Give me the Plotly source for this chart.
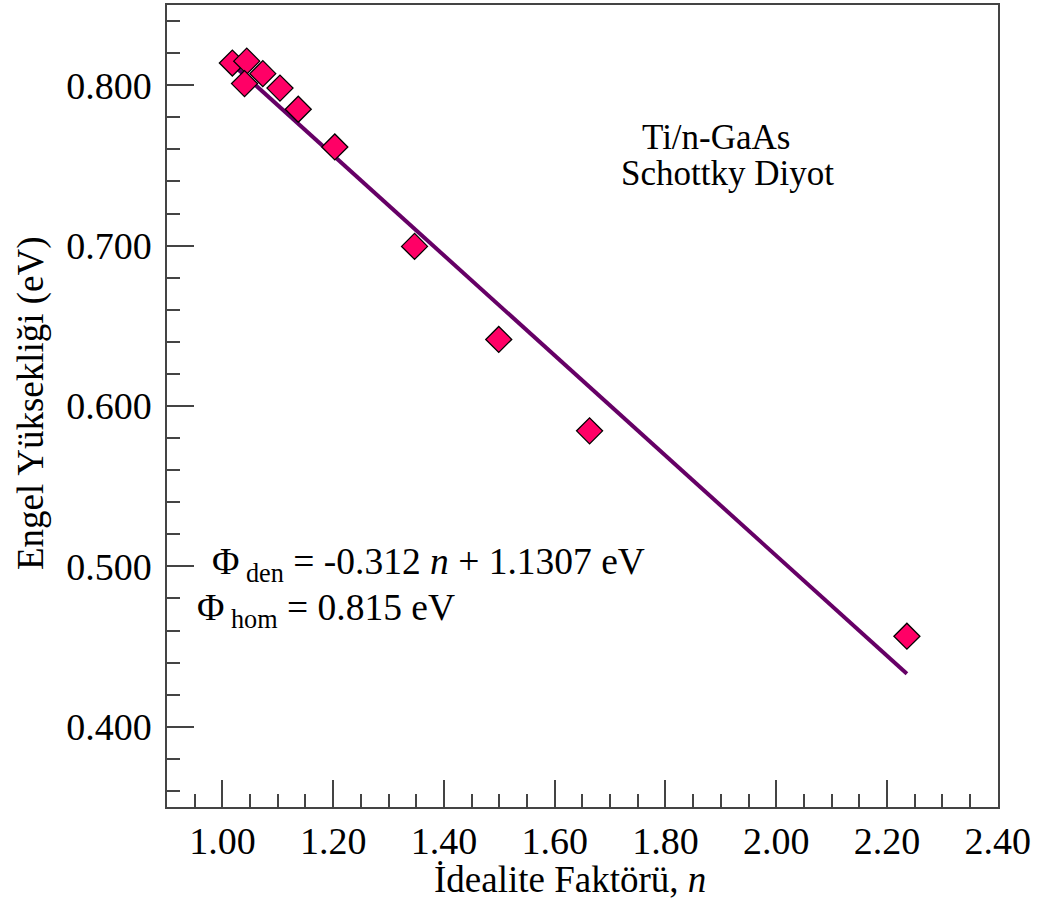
import plotly.graph_objects as go

# Data
ideality_n = [1.018, 1.044, 1.040, 1.073, 1.104, 1.137, 1.203, 1.347, 1.499, 1.663, 2.236]
barrier_eV = [0.8138, 0.8150, 0.8010, 0.8072, 0.7982, 0.7850, 0.7615, 0.6995, 0.6415, 0.5845, 0.4565]

# Linear fit given in the chart
slope = -0.312
intercept = 1.1307
fit_x = [min(ideality_n), max(ideality_n)]
fit_y = [slope * v + intercept for v in fit_x]

FONT = "Liberation Serif, Times New Roman, serif"

W, H = 1039, 907
L, R, T, B = 167, 41, 3, 100
pw, ph = W - L - R, H - T - B


def px(x):
    return (x - L) / pw


def py(y):
    return 1 - (y - T) / ph


fig = go.Figure()
fig.add_trace(go.Scatter(
    x=fit_x, y=fit_y, mode="lines",
    line=dict(color="#660066", width=4),
    showlegend=False, hoverinfo="skip"))
fig.add_trace(go.Scatter(
    x=ideality_n, y=barrier_eV, mode="markers",
    marker=dict(symbol="diamond", size=20, color="#FF0066",
                line=dict(color="black", width=1.3)),
    showlegend=False))

fig.update_layout(
    width=W, height=H,
    margin=dict(l=L, r=R, t=T, b=B),
    paper_bgcolor="white", plot_bgcolor="white",
    font=dict(family=FONT, size=38, color="black"),
    xaxis=dict(
        range=[0.9, 2.4005], tick0=1.0, dtick=0.2, tickformat=".2f",
        ticks="inside", ticklen=27, tickwidth=1.5, tickcolor="#444",
        minor=dict(ticks="inside", ticklen=13, dtick=0.05, tick0=1.0, tickcolor="#444", tickwidth=1.5),
        showline=True, linecolor="#444", linewidth=1.5, mirror=True,
        showgrid=False, zeroline=False,
        tickfont=dict(size=38),
    ),
    yaxis=dict(
        range=[0.35, 0.85], tick0=0.4, dtick=0.1, tickformat=".3f",
        ticks="inside", ticklen=27, tickwidth=1.5, tickcolor="#444",
        minor=dict(ticks="inside", ticklen=13, dtick=0.02, tick0=0.4, tickcolor="#444", tickwidth=1.5),
        showline=True, linecolor="#444", linewidth=1.5, mirror=True,
        showgrid=False, zeroline=False, ticklabelstandoff=6,
        tickfont=dict(size=38),
    ),
    annotations=[
        # axis titles
        dict(x=px(570), y=py(880), xref="paper", yref="paper",
             text="İdealite Faktörü, <i>n</i>", showarrow=False,
             xanchor="center", yanchor="middle", font=dict(size=37)),
        dict(x=px(31), y=py(402), xref="paper", yref="paper",
             text="Engel Yüksekliği (eV)", showarrow=False, textangle=-90,
             xanchor="center", yanchor="middle", font=dict(size=37)),
        # labels inside the plot
        dict(x=px(716), y=py(136), xref="paper", yref="paper", text="Ti/n-GaAs", showarrow=False,
             xanchor="center", yanchor="middle", font=dict(size=35)),
        dict(x=px(727), y=py(172), xref="paper", yref="paper", text="Schottky Diyot", showarrow=False,
             xanchor="center", yanchor="middle", font=dict(size=35)),
        dict(x=px(210), y=py(564), xref="paper", yref="paper",
             text="Φ<sub> den</sub> = -0.312 <i>n</i> + 1.1307 eV", showarrow=False,
             xanchor="left", yanchor="middle", font=dict(size=37.5)),
        dict(x=px(195), y=py(610), xref="paper", yref="paper",
             text="Φ<sub> hom</sub> = 0.815 eV", showarrow=False,
             xanchor="left", yanchor="middle", font=dict(size=37.5)),
    ],
)

fig.write_html("out.html")
